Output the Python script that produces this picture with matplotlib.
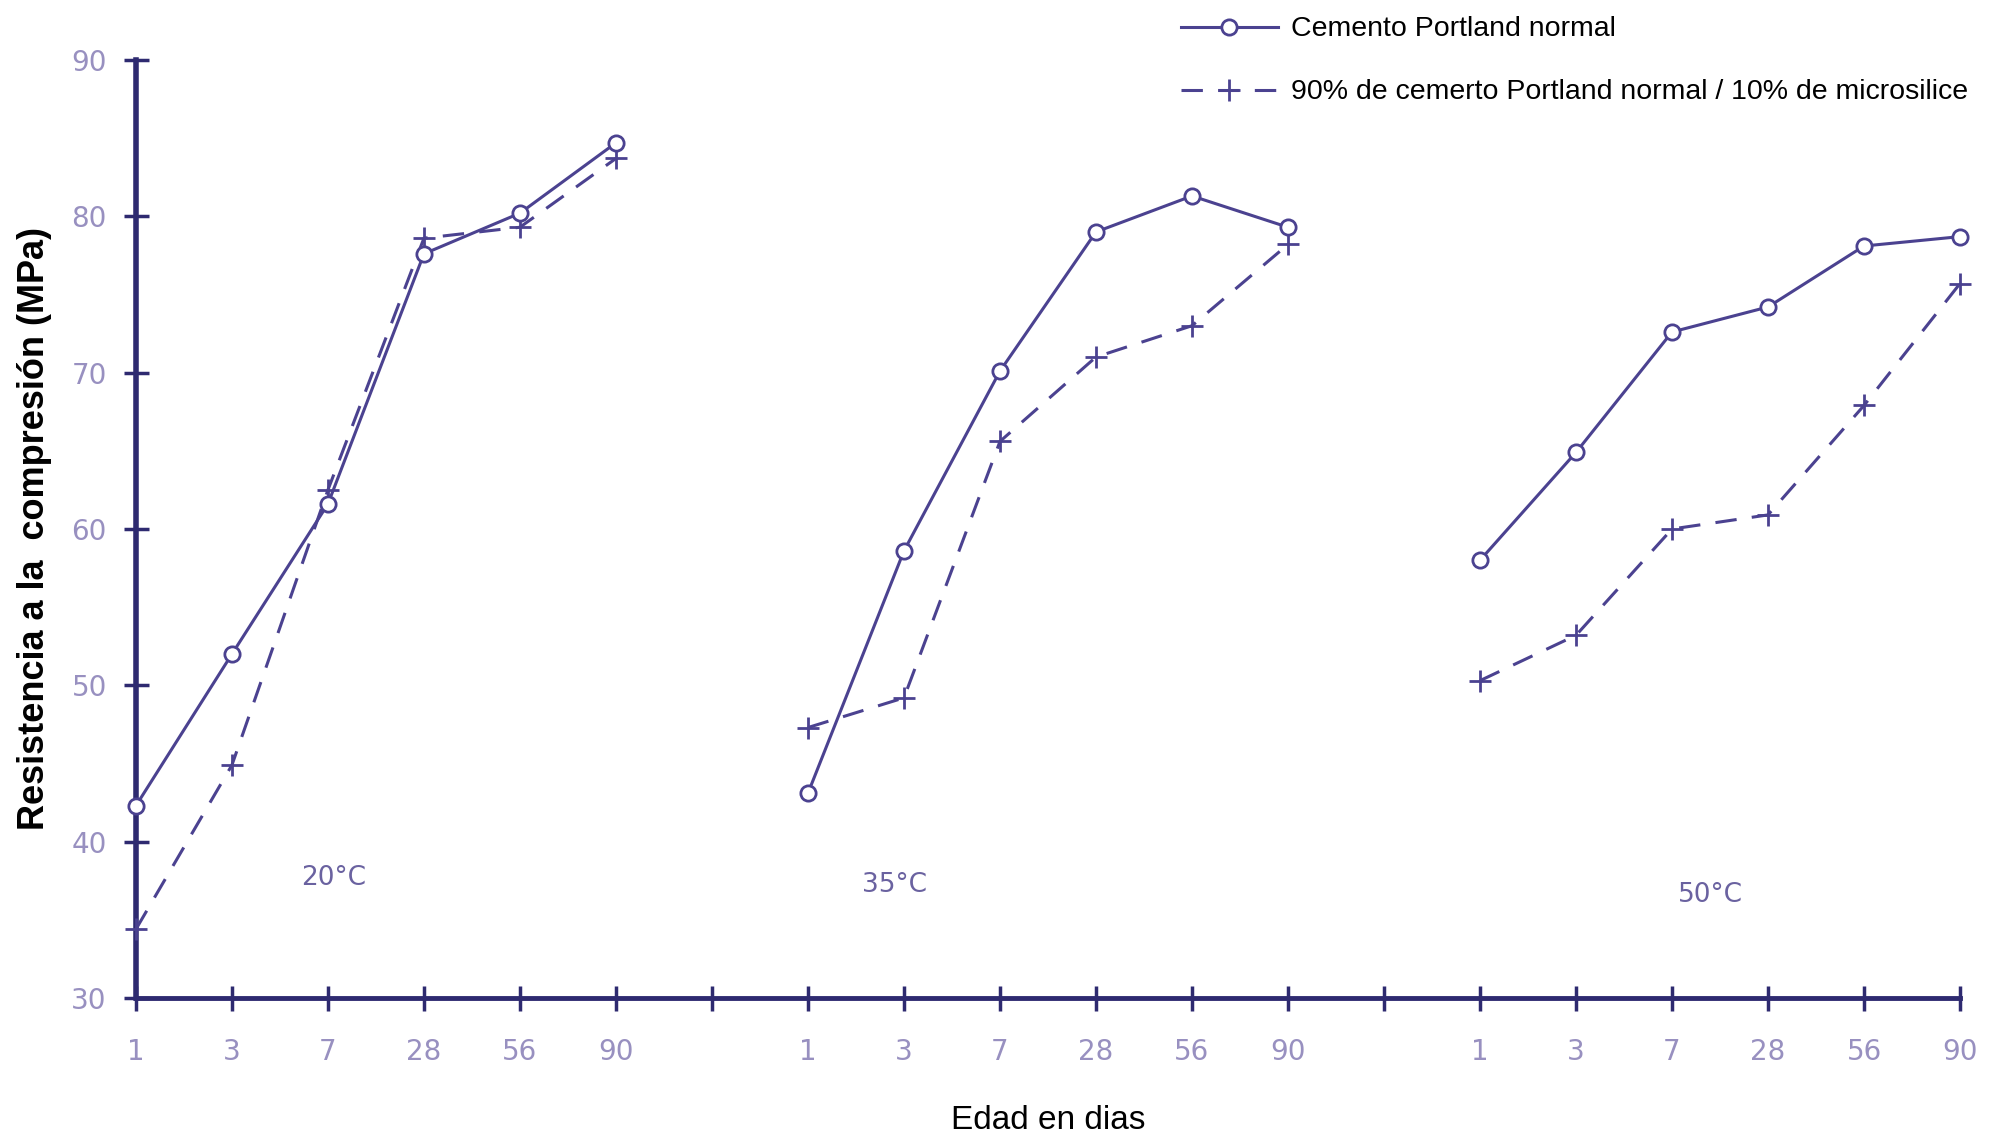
import matplotlib
matplotlib.use("Agg")
import matplotlib.pyplot as plt
import numpy as np

# Datos (MPa)
edades = ["1", "3", "7", "28", "56", "90"]
temperaturas = ["20°C", "35°C", "50°C"]

portland_20 = [42.3, 52.0, 61.6, 77.6, 80.2, 84.7]
portland_35 = [43.1, 58.6, 70.1, 79.0, 81.3, 79.3]
portland_50 = [58.0, 64.9, 72.6, 74.2, 78.1, 78.7]

micro_20 = [34.4, 44.9, 62.5, 78.6, 79.3, 83.7]
micro_35 = [47.3, 49.2, 65.6, 71.0, 73.0, 78.2]
micro_50 = [50.3, 53.2, 60.0, 60.9, 67.9, 75.7]

etiquetas_x = ["1", "3", "7", "28", "56", "90", "",
               "1", "3", "7", "28", "56", "90", "",
               "1", "3", "7", "28", "56", "90"]

color_linea = "#4b4290"
color_eje = "#2e2a70"
color_tick = "#9890c0"

plt.rcParams['font.family'] = ['Liberation Sans', 'DejaVu Sans']

fig = plt.figure(figsize=(19.99, 11.44), dpi=100)
ax = fig.add_axes([0.068, 0.1276, 0.9125, 0.82])

grupos_p = [portland_20, portland_35, portland_50]
grupos_m = [micro_20, micro_35, micro_50]

for i in range(3):
    x = np.arange(6) + 7 * i
    lab_p = "Cemento Portland normal" if i == 0 else None
    lab_m = "90% de cemerto Portland normal / 10% de microsilice" if i == 0 else None
    ax.plot(x, grupos_p[i], color=color_linea, lw=2.2, marker="o", ms=11,
            mfc="white", mec=color_linea, mew=2, clip_on=False, zorder=4, label=lab_p)
    ax.plot(x, grupos_m[i], color=color_linea, lw=2.2, ls=(0, (7, 5)), marker="+",
            ms=16, mew=2, clip_on=False, zorder=3, label=lab_m)

# Etiquetas de temperatura
pos_temp = [(2.06, 37.7), (7.9, 37.2), (16.4, 36.6)]
for t, (px, py) in zip(temperaturas, pos_temp):
    ax.text(px, py, t, color="#6a62a0", fontsize=19, ha="center", va="center",
            family=['DejaVu Sans'])

ax.set_xlim(0, 19)
ax.set_ylim(30, 90)
ax.set_xticks(np.arange(20))
ax.set_xticklabels(etiquetas_x)
ax.set_yticks([30, 40, 50, 60, 70, 80, 90])

for s in ["top", "right"]:
    ax.spines[s].set_visible(False)
ax.spines["left"].set_color(color_eje)
ax.spines["left"].set_linewidth(4)
ax.spines["bottom"].set_color(color_eje)
ax.spines["bottom"].set_linewidth(3.5)

ax.tick_params(axis="both", direction="inout", length=18, width=2.5, color=color_eje,
               labelcolor=color_tick, labelsize=20)
ax.tick_params(axis="x", pad=20)
ax.tick_params(axis="y", pad=12)
for lab in ax.get_xticklabels() + ax.get_yticklabels():
    lab.set_family(['DejaVu Sans'])

ax.set_ylabel("Resistencia a la  compresión (MPa)", fontsize=26, fontweight="bold",
              color="black", labelpad=14)
ax.set_xlabel("Edad en dias", fontsize=24, color="black", labelpad=28)

leg = fig.legend(loc="upper left", bbox_to_anchor=(0.578, 1.008), frameon=False,
                 fontsize=20.5, handlelength=3.4, handletextpad=0.45, labelspacing=1.3,
                 labelcolor="black")

fig.savefig("out.png", dpi=100, facecolor="white")
